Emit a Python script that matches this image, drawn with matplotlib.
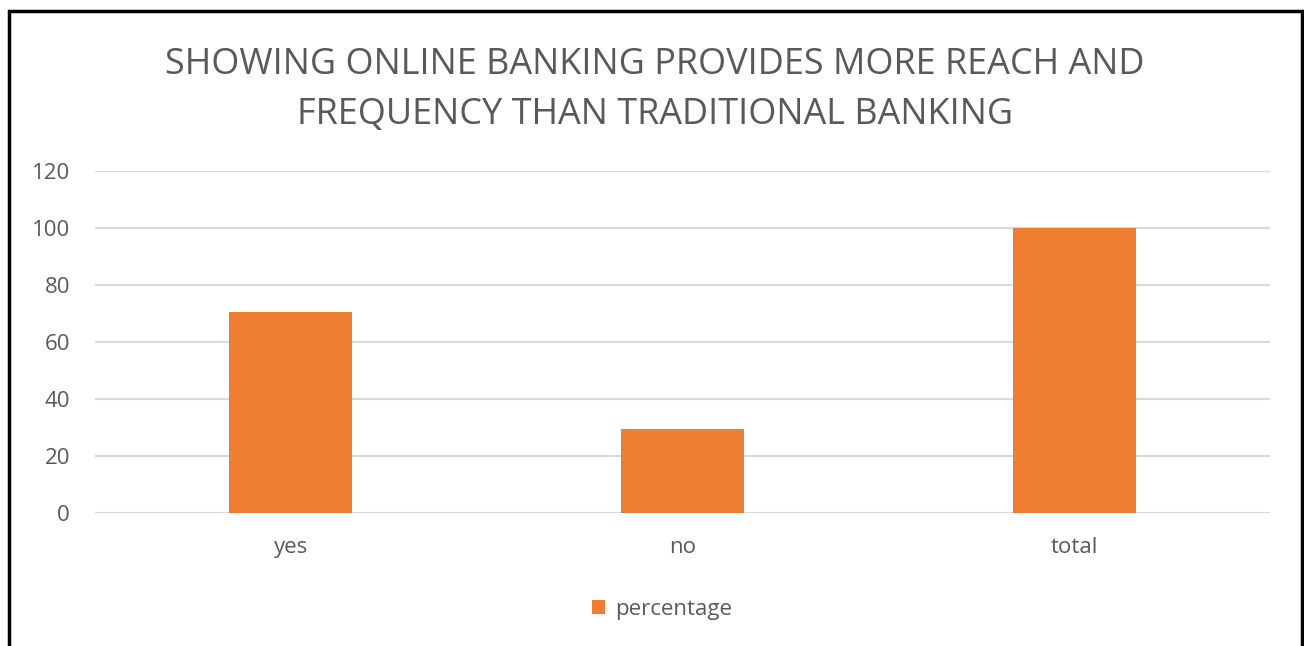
import matplotlib.pyplot as plt
from matplotlib.patches import Rectangle

plt.rcParams['font.family'] = ['Open Sans', 'DejaVu Sans']

categories = ['yes', 'no', 'total']
percentage = [70.5, 29.5, 100]
yticks = [0, 20, 40, 60, 80, 100, 120]
title = 'SHOWING ONLINE BANKING PROVIDES MORE REACH AND\nFREQUENCY THAN TRADITIONAL BANKING'

grey = '#595959'
orange = '#ed7d31'

fig = plt.figure(figsize=(13.04, 6.46), dpi=100)
ax = fig.add_axes([95 / 1304, 1 - 513 / 646, 1175 / 1304, 342 / 646])

x = range(len(categories))
ax.bar(x, percentage, width=0.314, color=orange, zorder=3, label='percentage')

ax.set_xlim(-0.5, 2.5)
ax.set_ylim(0, 120)
ax.set_yticks(yticks)
ax.set_xticks(list(x))
ax.set_xticklabels(categories)
ax.tick_params(axis='both', length=0, colors=grey, labelsize=16)
ax.tick_params(axis='y', pad=18)
ax.tick_params(axis='x', pad=17)
ax.grid(axis='y', color='#d9d9d9', linewidth=1.5, zorder=0)
for side in ['top', 'right', 'left', 'bottom']:
    ax.spines[side].set_visible(False)

fig.text(655 / 1304, 1 - 90 / 646, title, ha='center', va='center',
         fontsize=25.9, color=grey, linespacing=1.55)

leg = fig.legend(loc='center', bbox_to_anchor=(662 / 1304, 1 - 609 / 646),
                 frameon=False, fontsize=16, handlelength=0.6, handleheight=0.6,
                 handletextpad=0.45)
for t in leg.get_texts():
    t.set_color(grey)

# outer chart frame
fig.patches.append(Rectangle((9 / 1304, -0.05), 1293 / 1304, 1 - 11 / 646 + 0.05,
                             transform=fig.transFigure, fill=False,
                             edgecolor='black', linewidth=2.5))

fig.savefig('out.png', dpi=100)
